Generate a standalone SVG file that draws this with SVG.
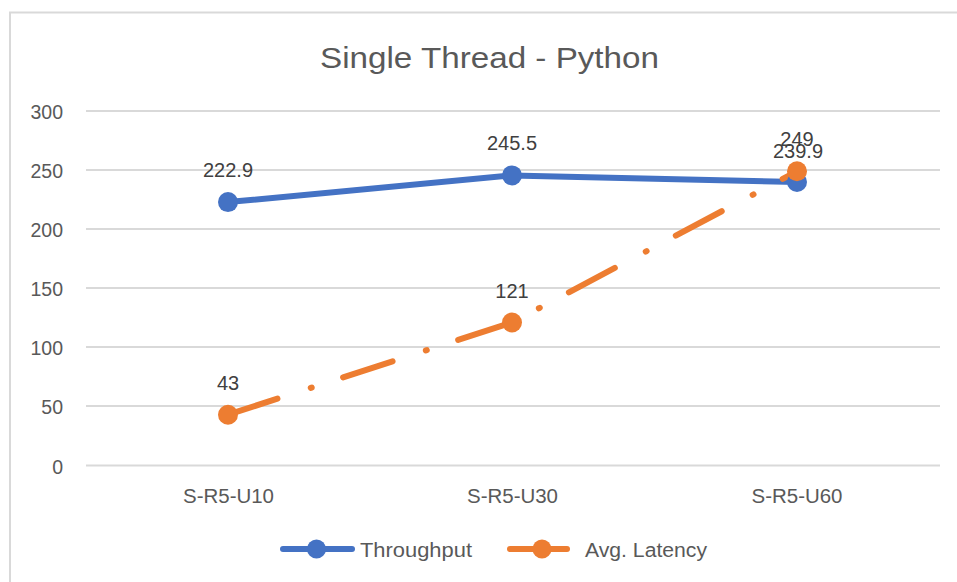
<svg xmlns="http://www.w3.org/2000/svg" width="957" height="582" viewBox="0 0 957 582">
  <style>
    .title { font-family: "Liberation Sans", Arial, sans-serif; font-size: 29px; fill: #595959; }
    .tick { font-family: "Liberation Sans", Arial, sans-serif; font-size: 19.5px; fill: #595959; }
    .val { font-family: "Liberation Sans", Arial, sans-serif; font-size: 20px; fill: #404040; text-anchor: middle; }
    .grid { stroke: #d9d9d9; stroke-width: 2; }
    .thr { fill: none; stroke: #4472c4; stroke-width: 6; stroke-linecap: round; stroke-linejoin: round; }
    .lat { fill: none; stroke: #ed7d31; stroke-width: 6; stroke-linecap: round; stroke-linejoin: round; }
    .lat-dash { stroke-dasharray: 52 35 1 33; }
    .thr-dot { fill: #4472c4; }
    .lat-dot { fill: #ed7d31; }
  </style>
  <rect width="957" height="582" fill="#ffffff"/>
  <!-- chart frame (left and top edges visible) -->
  <path d="M10 582 V12.5 H957" fill="none" stroke="#d9d9d9" stroke-width="2"/>

  <text id="title" class="title" x="489.5" y="68" text-anchor="middle" textLength="339" lengthAdjust="spacingAndGlyphs">Single Thread - Python</text>

  <!-- value axis -->
  <g id="gridlines">
    <line class="grid" x1="86" y1="111" x2="940" y2="111"/>
    <line class="grid" x1="86" y1="170" x2="940" y2="170"/>
    <line class="grid" x1="86" y1="229" x2="940" y2="229"/>
    <line class="grid" x1="86" y1="288" x2="940" y2="288"/>
    <line class="grid" x1="86" y1="347" x2="940" y2="347"/>
    <line class="grid" x1="86" y1="406" x2="940" y2="406"/>
    <line class="grid" x1="86" y1="465.5" x2="940" y2="465.5"/>
  </g>
  <g id="y-axis-labels" class="tick" text-anchor="end">
    <text x="63" y="119">300</text>
    <text x="63" y="178">250</text>
    <text x="63" y="237">200</text>
    <text x="63" y="296">150</text>
    <text x="63" y="355">100</text>
    <text x="63" y="414">50</text>
    <text x="63" y="473.5">0</text>
  </g>
  <g id="x-axis-labels" class="tick" text-anchor="middle">
    <text x="228.5" y="503" textLength="91" lengthAdjust="spacingAndGlyphs">S-R5-U10</text>
    <text x="512.5" y="503" textLength="91" lengthAdjust="spacingAndGlyphs">S-R5-U30</text>
    <text x="797" y="503" textLength="91" lengthAdjust="spacingAndGlyphs">S-R5-U60</text>
  </g>

  <!-- series lines -->
  <g id="connectors">
    <polyline id="throughput-line" class="thr" points="228,202.1 512,175.4 797,182"/>
    <polyline id="latency-line" class="lat lat-dash" points="228,414.7 512,322.5 797,171.3"/>
  </g>

  <!-- data points -->
  <g id="throughput-points">
    <g id="thr-u10"><circle class="thr-dot" cx="228" cy="202.1" r="10"/><text class="val" x="228" y="177">222.9</text></g>
    <g id="thr-u30"><circle class="thr-dot" cx="512" cy="175.4" r="10"/><text class="val" x="512" y="150">245.5</text></g>
    <g id="thr-u60"><circle class="thr-dot" cx="797" cy="182" r="10"/><text class="val" x="798" y="157.5">239.9</text></g>
  </g>
  <g id="latency-points">
    <g id="lat-u10"><circle class="lat-dot" cx="228" cy="414.7" r="10"/><text class="val" x="228" y="390">43</text></g>
    <g id="lat-u30"><circle class="lat-dot" cx="512" cy="322.5" r="10"/><text class="val" x="512" y="297.5">121</text></g>
    <g id="lat-u60"><circle class="lat-dot" cx="797" cy="171.3" r="10"/><text class="val" x="797" y="146">249</text></g>
  </g>

  <!-- legend -->
  <g id="legend">
    <g id="legend-throughput">
      <line class="thr" x1="283" y1="549" x2="352" y2="549"/>
      <circle class="thr-dot" cx="316.5" cy="549" r="9.5"/>
      <text class="tick" x="360" y="557" textLength="112" lengthAdjust="spacingAndGlyphs">Throughput</text>
    </g>
    <g id="legend-latency">
      <line class="lat" x1="510" y1="549" x2="567" y2="549"/>
      <circle class="lat-dot" cx="542" cy="549" r="9.5"/>
      <text class="tick" x="585" y="557" textLength="122" lengthAdjust="spacingAndGlyphs">Avg. Latency</text>
    </g>
  </g>
</svg>
